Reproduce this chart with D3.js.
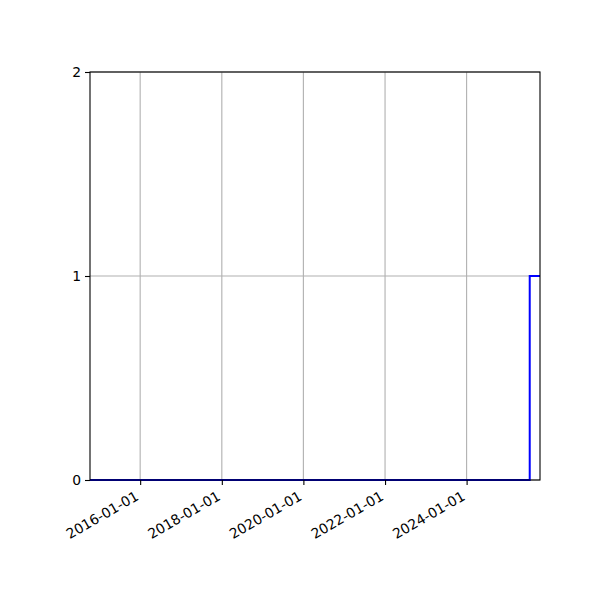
<!DOCTYPE html>
<html>
<head>
<meta charset="utf-8">
<script src="https://cdn.jsdelivr.net/npm/d3@7"></script>
<style>
  body { margin: 0; background: #fff; }
  text { font-family: "DejaVu Sans", sans-serif; }
</style>
</head>
<body>
<div id="chart"></div>
<script>
// step series
const dates = ["2014-10-09", "2025-07-19", "2025-10-19"]
const values = [0, 1, 1]
const xTickLabels = ["2016-01-01", "2018-01-01", "2020-01-01", "2022-01-01", "2024-01-01"]
const yTicks = [0, 1, 2]

const width = 600, height = 600
const marginTop = 72, marginRight = 60, marginBottom = 120, marginLeft = 90

const parse = d3.utcParse("%Y-%m-%d")
const data = dates.map((d, i) => ({ date: parse(d), value: values[i] }))

const x = d3.scaleUtc()
  .domain(d3.extent(data, d => d.date))
  .range([marginLeft, width - marginRight])
const y = d3.scaleLinear()
  .domain([0, 2])
  .range([height - marginBottom, marginTop])

const svg = d3.select("#chart").append("svg")
  .attr("width", width)
  .attr("height", height)

const xTicks = xTickLabels.map(parse)

// grid
svg.append("g")
  .selectAll("line.gx")
  .data(xTicks)
  .join("line")
  .attr("x1", d => x(d)).attr("x2", d => x(d))
  .attr("y1", marginTop).attr("y2", height - marginBottom)
  .attr("stroke", "#b0b0b0").attr("stroke-width", 1.1)
svg.append("g")
  .selectAll("line.gy")
  .data(yTicks)
  .join("line")
  .attr("x1", marginLeft).attr("x2", width - marginRight)
  .attr("y1", d => y(d)).attr("y2", d => y(d))
  .attr("stroke", "#b0b0b0").attr("stroke-width", 1.1)

// step line
const line = d3.line()
  .x(d => x(d.date))
  .y(d => y(d.value))
  .curve(d3.curveStepAfter)
svg.append("path")
  .datum(data)
  .attr("fill", "none")
  .attr("stroke", "#0000ff")
  .attr("stroke-width", 2)
  .attr("d", line)

// frame
svg.append("rect")
  .attr("x", marginLeft).attr("y", marginTop)
  .attr("width", width - marginLeft - marginRight)
  .attr("height", height - marginTop - marginBottom)
  .attr("fill", "none").attr("stroke", "#000").attr("stroke-width", 1.1)

// x axis
const xAxis = svg.append("g")
  .attr("transform", `translate(0,${height - marginBottom})`)
  .call(d3.axisBottom(x).tickValues(xTicks).tickFormat(d3.utcFormat("%Y-%m-%d")).tickSize(5).tickSizeOuter(0))
xAxis.select(".domain").remove()
xAxis.selectAll(".tick line").attr("stroke", "#000").attr("stroke-width", 1.1)
xAxis.selectAll(".tick text")
  .attr("font-size", 13.9)
  .attr("fill", "#000")
  .attr("text-anchor", "end")
  .attr("dy", null)
  .attr("y", 0)
  .attr("transform", "translate(-1,19) rotate(-30)")

// y axis
const yAxis = svg.append("g")
  .attr("transform", `translate(${marginLeft},0)`)
  .call(d3.axisLeft(y).tickValues(yTicks).tickFormat(d3.format("d")).tickSize(5).tickSizeOuter(0))
yAxis.select(".domain").remove()
yAxis.selectAll(".tick line").attr("stroke", "#000").attr("stroke-width", 1.1)
yAxis.selectAll(".tick text")
  .attr("font-size", 13.9)
  .attr("fill", "#000")
  .attr("x", -9)
</script>
</body>
</html>
